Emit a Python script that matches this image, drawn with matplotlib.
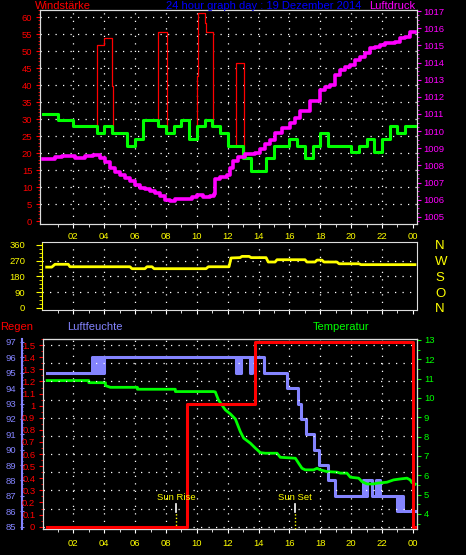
import numpy as np
import matplotlib.pyplot as plt
import matplotlib.transforms as mtransforms
from matplotlib.ticker import MultipleLocator, FixedLocator

plt.rcParams['font.family'] = ['Liberation Sans', 'DejaVu Sans']

# ---------------- data ----------------
hour_ticks = [2, 4, 6, 8, 10, 12, 14, 16, 18, 20, 22, 24]
hour_labels = ['02', '04', '06', '08', '10', '12', '14', '16', '18', '20', '22', '00']

# wind speed (km/h), step series
wind_t = [0.05, 1.0, 2.0, 3.5, 4.0, 4.5, 5.5, 6.0, 6.5, 7.5, 8.0, 8.5, 9.0, 9.5, 10.0,
          10.5, 11.0, 11.5, 12.0, 13.0, 13.5, 14.5, 15.0, 16.0, 16.5, 17.0, 17.5, 18.0,
          18.5, 20.0, 20.5, 21.0, 21.5, 22.0, 22.5, 23.0, 23.5, 24.15]
wind_v = [31.5, 29.6, 27.8, 25.9, 27.8, 25.9, 22.2, 24.1, 29.6, 27.8, 25.9, 27.8, 29.6,
          24.1, 27.8, 29.6, 27.8, 25.9, 22.2, 18.5, 14.8, 18.5, 22.2, 24.1, 22.2, 18.5,
          22.2, 25.9, 22.2, 20.4, 22.2, 24.1, 20.4, 24.1, 27.8, 25.9, 27.8, 27.8]

# gusts (km/h)
gust1_t = [3.5, 3.5, 3.97, 4.51, 4.55]
gust1_v = [27.8, 51.8, 53.8, 39.7, 25.9]
gust2_t = [7.51, 7.51, 8.07]
gust2_v = [27.8, 55.5, 25.9]
gust3_t = [9.99, 9.99, 10.06, 10.51, 10.58, 11.03]
gust3_v = [24.1, 42.6, 61.1, 58.3, 55.5, 27.8]
gust4_t = [12.52, 12.52, 13.04]
gust4_v = [22.2, 46.4, 18.5]

# air pressure (hPa)
press_t = [0.03, 0.81, 1.26, 2.11, 2.75, 3.27, 3.73, 4.05, 4.37, 4.70, 5.02, 5.35, 5.67,
           6.00, 6.32, 6.64, 6.97, 7.29, 7.62, 7.94, 8.26, 8.59, 9.23, 9.69, 10.01, 10.40,
           10.86, 11.11, 11.18, 11.50, 11.94, 12.15, 12.37, 12.69, 13.12, 13.77, 14.10,
           14.42, 14.74, 15.07, 15.52, 16.04, 16.36, 16.69, 17.34, 17.99, 18.31, 18.64,
           18.96, 19.28, 19.61, 19.93, 20.25, 20.58, 20.90, 21.22, 21.55, 21.87, 22.20,
           22.52, 22.84, 23.16, 23.49, 23.81, 24.14]
press_v = [1008.38, 1008.49, 1008.55, 1008.44, 1008.55, 1008.61, 1008.44, 1008.20,
           1007.85, 1007.62, 1007.45, 1007.27, 1007.10, 1006.86, 1006.69, 1006.63,
           1006.51, 1006.40, 1006.22, 1005.99, 1005.93, 1006.05, 1006.05, 1006.16,
           1006.28, 1006.16, 1006.22, 1006.34, 1007.21, 1007.33, 1007.45, 1007.85,
           1008.26, 1008.49, 1008.67, 1008.73, 1008.96, 1009.25, 1009.48, 1009.89,
           1010.18, 1010.47, 1010.77, 1011.17, 1011.76, 1012.40, 1012.57, 1012.69,
           1013.27, 1013.56, 1013.74, 1013.85, 1014.14, 1014.32, 1014.55, 1014.84,
           1014.90, 1015.02, 1015.13, 1015.13, 1015.19, 1015.43, 1015.48, 1015.77, 1015.77]

# wind direction (degrees)
dir_t = [0.27, 0.60, 0.81, 1.67, 1.78, 5.67, 5.80, 6.64, 6.77, 7.10, 7.23, 10.60, 10.75,
         12.09, 12.22, 12.80, 12.93, 13.39, 13.52, 14.49, 14.63, 15.07, 15.20, 17.01,
         17.14, 17.66, 17.79, 18.11, 18.24, 19.08, 19.22, 20.51, 20.64, 24.14]
dir_v = [233, 233, 249, 249, 235, 235, 224, 224, 235, 235, 224, 224, 235, 235, 285, 287,
         294, 294, 287, 287, 262, 262, 275, 275, 262, 262, 273, 273, 262, 262, 252, 252,
         247, 247]

# rain (mm), step series
rain_t = [0.27, 9.39, 13.80, 24.0, 24.14]
rain_v = [0.0, 1.016, 1.524, 0.0, 0.0]

# humidity (%), step series
hum_t = [0.27, 3.22, 3.28, 3.40, 3.46, 3.60, 3.65, 3.70, 3.75, 3.80, 3.85, 3.90, 3.95,
         4.00, 12.56, 12.62, 12.68, 12.74, 12.80, 12.86, 13.48, 13.56, 14.33, 15.85,
         16.56, 16.76, 17.10, 17.62, 17.94, 18.50, 18.98, 20.79, 20.85, 20.91, 20.97,
         21.03, 21.37, 21.63, 21.69, 21.75, 21.90, 22.96, 23.02, 23.08, 23.14, 23.18,
         23.22, 23.38, 24.14]
hum_v = [95, 96, 95, 96, 95, 96, 95, 96, 95, 96, 95, 96, 95, 96, 95, 96, 95, 96, 95, 96,
         95, 96, 95, 94, 93, 92, 91, 90, 89, 88, 87, 88, 87, 88, 87, 88, 87, 88, 87, 88,
         87, 86, 87, 86, 87, 86, 87, 86, 86]

# temperature (deg C)
temp_t = [0.30, 3.00, 3.00, 4.08, 4.08, 4.40, 6.15, 6.15, 8.61, 8.61, 11.08, 11.20, 11.40,
          11.85, 12.18, 12.50, 12.82, 13.04, 13.47, 13.80, 14.12, 14.44, 15.20, 15.41,
          16.39, 16.60, 16.82, 17.03, 17.57, 17.79, 18.00, 18.44, 19.09, 19.30, 19.73,
          19.95, 20.49, 20.71, 21.03, 21.46, 21.68, 22.32, 22.75, 23.19, 23.62, 23.83,
          23.94, 24.16]
temp_v = [10.90, 10.90, 10.79, 10.79, 10.64, 10.55, 10.55, 10.45, 10.45, 10.33, 10.33,
          10.31, 9.90, 9.38, 9.17, 8.91, 8.26, 7.92, 7.66, 7.40, 7.17, 7.14, 7.14, 6.93,
          6.88, 6.62, 6.36, 6.28, 6.28, 6.36, 6.28, 6.19, 6.16, 6.11, 6.11, 5.90, 5.85,
          5.67, 5.55, 5.55, 5.59, 5.64, 5.76, 5.81, 5.85, 5.76, 5.62, 5.54]

sun_rise = 8.68
sun_set = 16.34

# ---------------- layout helpers ----------------
W, H = 466, 555
X0, PPH = 42.5, 15.43   # pixel of hour 0, pixels per hour


def rect(l, t, r, b):
    return [l / W, 1 - b / H, (r - l) / W, (b - t) / H]


def hx(px):
    return (px - X0) / PPH


RED, MAG, GRN, YEL, LIL = '#ff0000', '#ff00ff', '#00ff00', '#ffff00', '#8484ff'
dots = dict(color='white', lw=0.9, ls=(0, (1, 5)))
TICK_FS = 6.8
HEAD_FS = 8

fig = plt.figure(figsize=(W / 100, H / 100), dpi=100, facecolor='black')


def style_x(ax, show_labels, pad=3):
    ax.set_xticks(hour_ticks)
    ax.xaxis.set_minor_locator(FixedLocator(np.arange(1, 24, 2)))
    if show_labels:
        ax.set_xticklabels(hour_labels)
    else:
        ax.set_xticklabels([])
    ax.tick_params(axis='x', which='major', colors='white', labelcolor=YEL, length=3,
                   pad=pad, labelsize=TICK_FS)
    ax.tick_params(axis='x', which='minor', colors='white', length=2)
    for x in hour_ticks[:-1]:
        ax.axvline(x, zorder=0, **dots)


# ---------------- top panel: wind + pressure ----------------
ax1 = fig.add_axes(rect(40, 10, 417, 224), facecolor='black')
ax1.set_xlim(hx(40), hx(417))
ax1.set_ylim(-0.88, 62.06)
for y in range(5, 61, 5):
    ax1.axhline(y, zorder=0, **dots)
for gt, gv in [(gust1_t, gust1_v), (gust2_t, gust2_v), (gust3_t, gust3_v), (gust4_t, gust4_v)]:
    ax1.step(gt, gv, where='post', color=RED, lw=0.9, zorder=2)
ax1.step(wind_t, wind_v, where='post', color=GRN, lw=2.2, zorder=3)
ax1.set_yticks(range(0, 61, 5))
ax1.yaxis.set_minor_locator(MultipleLocator(1))
ax1.tick_params(axis='y', which='major', colors=RED, length=3, pad=2.5, labelsize=TICK_FS)
ax1.tick_params(axis='y', which='minor', colors=RED, length=1.5)
style_x(ax1, True, pad=2.5)
for s in ax1.spines.values():
    s.set_color('#dddddd')

ax1p = ax1.twinx()
ax1p.set_ylim(1004.59, 1017.06)
ax1p.plot(press_t, press_v, color=MAG, lw=2.6, drawstyle='steps-post')
ax1p.set_yticks(range(1005, 1018))
ax1p.yaxis.set_minor_locator(MultipleLocator(0.25))
ax1p.tick_params(axis='y', which='major', colors=MAG, length=3, pad=1.5, labelsize=TICK_FS)
ax1p.tick_params(axis='y', which='minor', colors=MAG, length=1.5)
for s in ax1p.spines.values():
    s.set_color('#dddddd')

fig.text(35 / W, 1 - 6 / H, 'Windstärke', color=RED, fontsize=HEAD_FS, ha='left', va='center')
fig.text(264 / W, 1 - 6 / H, '24 hour graph day : 19 Dezember 2014', color='#0000ff',
         fontsize=HEAD_FS, ha='center', va='center')
fig.text(415 / W, 1 - 6 / H, 'Luftdruck', color=MAG, fontsize=HEAD_FS, ha='right', va='center')

# ---------------- middle panel: wind direction ----------------
ax2 = fig.add_axes(rect(42, 242, 417, 310), facecolor='black')
ax2.set_xlim(hx(42), hx(417))
ax2.set_ylim(-11.4, 376)
for y in [90, 180, 270]:
    ax2.axhline(y, zorder=0, **dots)
ax2.plot(dir_t, dir_v, color=YEL, lw=2.0, zorder=3)
ax2.set_yticks([0, 90, 180, 270, 360])
ax2.yaxis.set_minor_locator(MultipleLocator(22.5))
ax2.tick_params(axis='y', which='major', colors=YEL, length=4, pad=8, labelsize=TICK_FS)
ax2.tick_params(axis='y', which='minor', colors=YEL, length=2)
style_x(ax2, False)
for s in ax2.spines.values():
    s.set_color('#dddddd')
ax2.spines['left'].set_color(YEL)

ax2r = ax2.twinx()
ax2r.set_ylim(-11.4, 376)
ax2r.set_yticks([0, 90, 180, 270, 360])
ax2r.set_yticklabels(['N', 'O', 'S', 'W', 'N'])
ax2r.tick_params(axis='y', colors=YEL, length=0, pad=13, labelsize=9.5)
for s in ax2r.spines.values():
    s.set_visible(False)

# ---------------- bottom panel: rain, humidity, temperature ----------------
ax_h = fig.add_axes(rect(43, 339, 417, 529), facecolor='black')
ax_h.set_xlim(hx(43), hx(417))
ax_h.set_ylim(84.85, 97.19)
ax_h.step(hum_t, hum_v, where='post', color=LIL, lw=2.2, zorder=3)
ax_h.set_yticks(range(85, 98))
ax_h.yaxis.set_minor_locator(MultipleLocator(0.25))
ax_h.tick_params(axis='y', which='major', colors=LIL, length=3, direction='inout', pad=3,
                 labelsize=TICK_FS)
ax_h.tick_params(axis='y', which='minor', colors=LIL, length=2, direction='inout')
ax_h.spines['left'].set_position(('outward', 15))
ax_h.spines['left'].set_color(LIL)
ax_h.spines['left'].set_linewidth(1.5)
for k in ['top', 'right', 'bottom']:
    ax_h.spines[k].set_color('#dddddd')
style_x(ax_h, True, pad=4)

ax_t = ax_h.twinx()
ax_t.set_ylim(3.22, 13.05)
ax_t.plot(temp_t, temp_v, color=GRN, lw=2.0, zorder=3)
ax_t.set_yticks(range(4, 14))
ax_t.yaxis.set_minor_locator(MultipleLocator(0.5))
ax_t.tick_params(axis='y', which='major', colors=GRN, length=3, pad=2, labelsize=TICK_FS)
ax_t.tick_params(axis='y', which='minor', colors=GRN, length=2)
for s in ax_t.spines.values():
    s.set_color('#dddddd')

ax_r = ax_h.twinx()
ax_r.set_ylim(-0.019, 1.551)
ax_r.yaxis.tick_left()
for y in np.arange(0, 1.51, 0.15):
    ax_r.axhline(y, zorder=0, **dots)
ax_r.step(rain_t, rain_v, where='post', color=RED, lw=2.2, zorder=3)
rain_ticks = np.round(np.arange(0, 1.51, 0.1), 1)
ax_r.set_yticks(rain_ticks)
ax_r.set_yticklabels([f'{v:g}' for v in rain_ticks])
ax_r.yaxis.set_minor_locator(MultipleLocator(0.05))
ax_r.tick_params(axis='y', which='major', colors=RED, length=3, pad=2.5, labelsize=TICK_FS)
ax_r.tick_params(axis='y', which='minor', colors=RED, length=1.5)
for s in ax_r.spines.values():
    s.set_color('#dddddd')

# sun rise / sun set markers
trans = mtransforms.blended_transform_factory(ax_r.transData, ax_r.transAxes)
for t, lbl in [(sun_rise, 'Sun Rise'), (sun_set, 'Sun Set')]:
    ax_r.plot([t, t], [0.0895, 0.1316], color='white', lw=1.2, transform=trans)
    ax_r.plot([t, t], [0.0, 0.0895], color=YEL, lw=1.0, ls=(0, (1, 1.5)), transform=trans)
    ax_r.text(t, 0.165, lbl, color=YEL, fontsize=TICK_FS, ha='center', va='center',
              transform=trans)

fig.text(0 / W, 1 - 327 / H, 'Regen', color=RED, fontsize=HEAD_FS, ha='left', va='center')
fig.text(67 / W, 1 - 327 / H, 'Luftfeuchte', color=LIL, fontsize=HEAD_FS, ha='left', va='center')
fig.text(313 / W, 1 - 327 / H, 'Temperatur', color=GRN, fontsize=HEAD_FS, ha='left', va='center')

fig.savefig('out.png', dpi=100, facecolor='black')
